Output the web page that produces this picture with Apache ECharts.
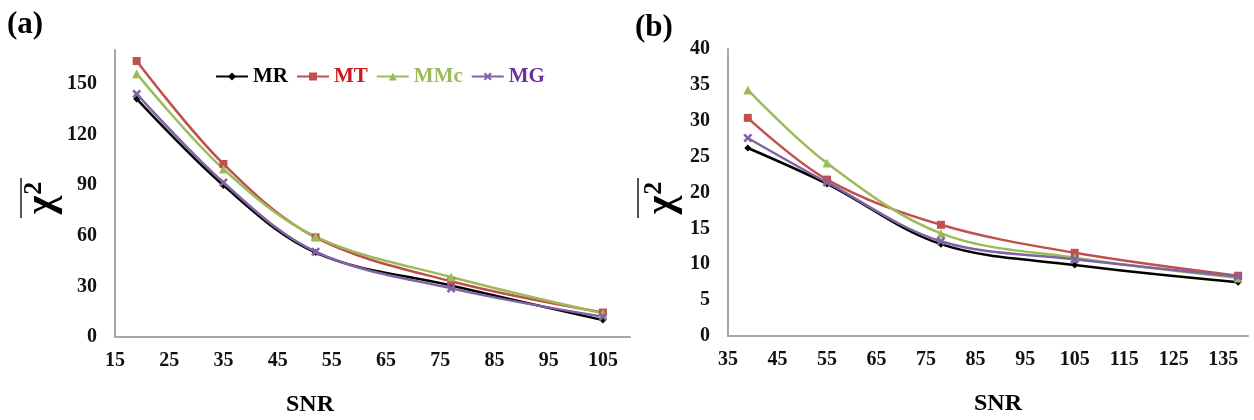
<!DOCTYPE html>
<html>
<head>
<meta charset="utf-8">
<script src="https://cdn.jsdelivr.net/npm/echarts@6/dist/echarts.min.js"></script>
<style>
  html, body { margin: 0; padding: 0; background: #ffffff; }
  #chart { width: 1254px; height: 420px; }
</style>
</head>
<body>
<div id="chart"></div>
<script>
// Mean chi-square versus SNR for the four methods, two experiments.
const seriesNames = ['MR', 'MT', 'MMc', 'MG'];

// Panel (a)
const snrA = [19, 35, 52, 77, 105];
const mrA  = [141, 89.8, 50, 30.5, 10];
const mtA  = [163.5, 102.5, 59, 33, 14.5];
const mmcA = [156, 99.5, 59.5, 35.5, 14];
const mgA  = [144, 91.5, 50.5, 28.8, 12];

// Panel (b)
const snrB = [39, 55, 78, 105, 138];
const mrB  = [26.2, 21.2, 12.8, 9.9, 7.5];
const mtB  = [30.4, 21.8, 15.5, 11.6, 8.4];
const mmcB = [34.3, 24.1, 14.3, 10.9, 8.1];
const mgB  = [27.6, 21.4, 13.2, 10.7, 8.3];

// Axis settings
const xTicksA = { min: 15, max: 110, interval: 10, showMax: false };
const yTicksA = { min: 0, max: 170, interval: 30, showMax: false };
const xTicksB = { min: 35, max: 140, interval: 10, showMax: false };
const yTicksB = { min: 0, max: 40, interval: 5, showMax: true };

const lineColors = { MR: '#000000', MT: '#c0504d', MMc: '#9bbb59', MG: '#8064a2' };
const textColors = { MR: '#000000', MT: '#d01818', MMc: '#9bbb59', MG: '#7030a0' };
const crossPath = 'path://M2,0 L5,3 L8,0 L10,2 L7,5 L10,8 L8,10 L5,7 L2,10 L0,8 L3,5 L0,2 Z';
const symbols = {
  MR:  { symbol: 'diamond', size: 7 },
  MT:  { symbol: 'rect', size: 8 },
  MMc: { symbol: 'triangle', size: 9 },
  MG:  { symbol: crossPath, size: 9 }
};

const serif = '"Liberation Serif", "Times New Roman", serif';
const axisGray = '#a6a6a6';

function pairs(xs, ys) { return xs.map((x, i) => [x, ys[i]]); }

function makeSeries(name, xs, ys, idx) {
  return {
    name: name,
    type: 'line',
    xAxisIndex: idx,
    yAxisIndex: idx,
    data: pairs(xs, ys),
    smooth: 0.35,
    symbol: symbols[name].symbol,
    symbolSize: symbols[name].size,
    showSymbol: true,
    lineStyle: { width: 2.5, color: lineColors[name] },
    itemStyle: { color: lineColors[name] },
    z: name === 'MR' ? 2 : 3
  };
}

function valueAxis(ticks, grid, isX) {
  return {
    type: 'value',
    gridIndex: grid,
    min: ticks.min,
    max: ticks.max,
    interval: ticks.interval,
    axisLine: { show: true, onZero: false, lineStyle: { color: axisGray, width: 2 } },
    axisTick: { show: false },
    splitLine: { show: false },
    axisLabel: {
      showMaxLabel: ticks.showMax,
      margin: isX ? 14 : 18,
      fontFamily: serif,
      fontWeight: 'bold',
      fontSize: 20,
      color: '#111111'
    }
  };
}

function chiTitle(cx, cy, barX) {
  return [
    {
      type: 'text',
      x: cx, y: cy,
      rotation: Math.PI / 2,
      style: {
        text: '{c|χ}{s|2}',
        rich: {
          c: { fontFamily: serif, fontWeight: 'bold', fontSize: 40, fill: '#000', verticalAlign: 'bottom' },
          s: { fontFamily: serif, fontWeight: 'bold', fontSize: 26, fill: '#000', verticalAlign: 'top', padding: [0, 0, 16, 1] }
        },
        align: 'center',
        verticalAlign: 'middle'
      }
    },
    {
      type: 'rect',
      shape: { x: barX, y: 178, width: 2, height: 40 },
      style: { fill: '#555555' }
    }
  ];
}

const chart = echarts.init(document.getElementById('chart'), null, { renderer: 'canvas' });

const option = {
  backgroundColor: '#ffffff',
  animation: false,
  grid: [
    { left: 115, top: 50, width: 515, height: 287 },
    { left: 728, top: 49, width: 520, height: 287 }
  ],
  xAxis: [valueAxis(xTicksA, 0, true), valueAxis(xTicksB, 1, true)],
  yAxis: [valueAxis(yTicksA, 0, false), valueAxis(yTicksB, 1, false)],
  legend: {
    left: 210,
    top: 61,
    itemWidth: 32,
    itemHeight: 10,
    itemGap: 8,
    data: seriesNames.map(n => ({
      name: n,
      textStyle: { color: textColors[n], fontFamily: serif, fontWeight: 'bold', fontSize: 21 }
    }))
  },
  graphic: [
    { type: 'text', x: 7, y: 9, style: { text: '(a)', fontFamily: serif, fontWeight: 'bold', fontSize: 31, fill: '#000' } },
    { type: 'text', x: 635, y: 12, style: { text: '(b)', fontFamily: serif, fontWeight: 'bold', fontSize: 31, fill: '#000' } },
    { type: 'text', x: 310, y: 405, style: { text: 'SNR', fontFamily: serif, fontWeight: 'bold', fontSize: 24, fill: '#000', align: 'center', verticalAlign: 'middle' } },
    { type: 'text', x: 998, y: 404, style: { text: 'SNR', fontFamily: serif, fontWeight: 'bold', fontSize: 24, fill: '#000', align: 'center', verticalAlign: 'middle' } }
  ].concat(chiTitle(42, 198, 20), chiTitle(662, 198, 637)),
  series: [
    makeSeries('MR', snrA, mrA, 0),
    makeSeries('MT', snrA, mtA, 0),
    makeSeries('MMc', snrA, mmcA, 0),
    makeSeries('MG', snrA, mgA, 0),
    makeSeries('MR', snrB, mrB, 1),
    makeSeries('MT', snrB, mtB, 1),
    makeSeries('MMc', snrB, mmcB, 1),
    makeSeries('MG', snrB, mgB, 1)
  ]
};

chart.setOption(option);
</script>
</body>
</html>
